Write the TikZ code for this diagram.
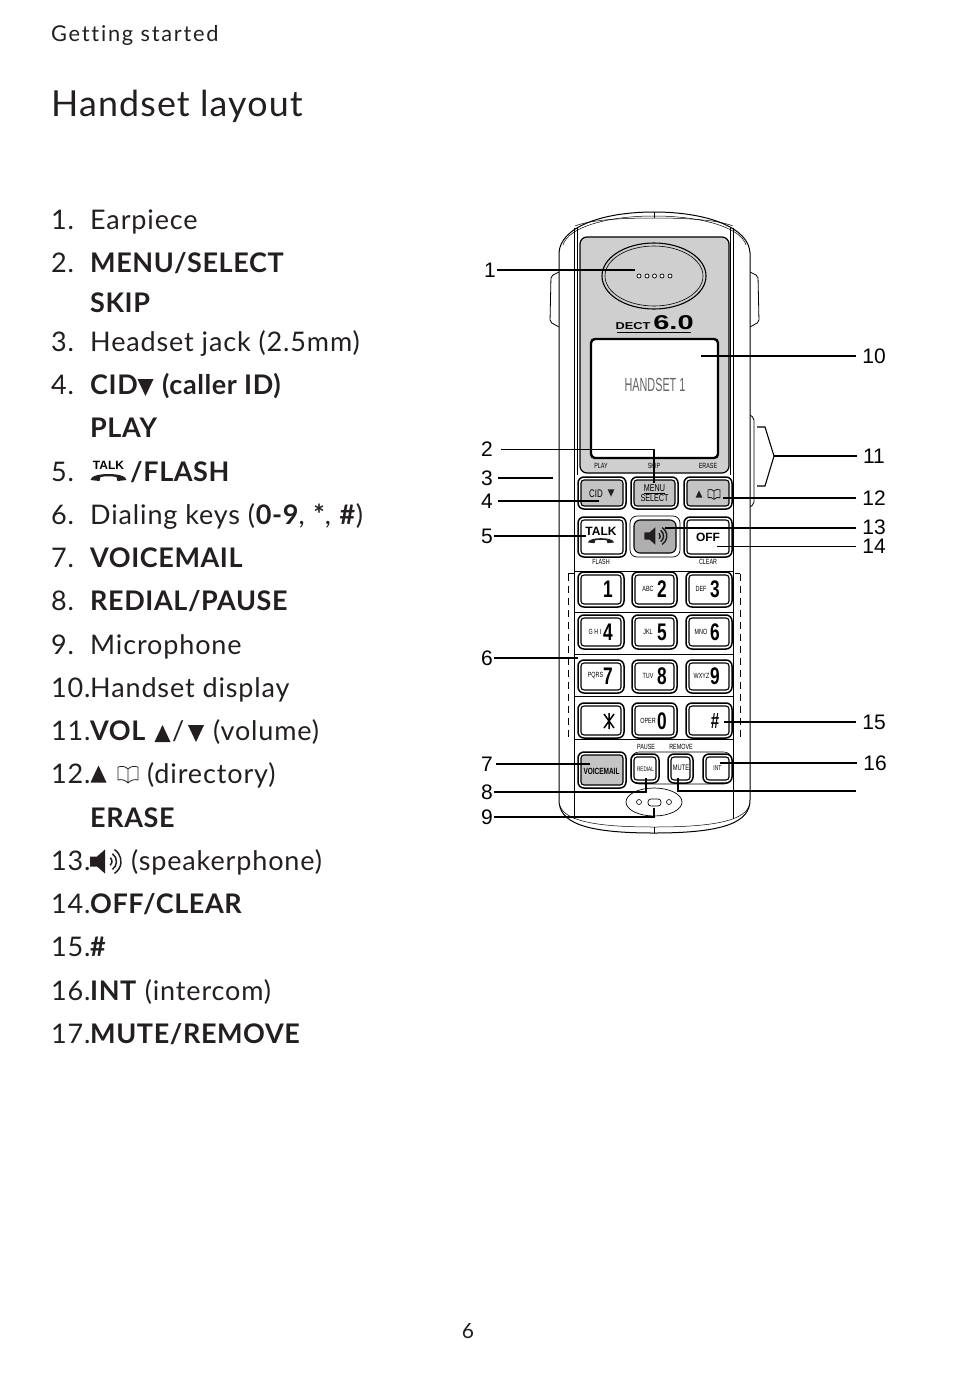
\documentclass[tikz,border=0pt]{standalone}
\usepackage{fontspec}
\setmainfont{Lato}
\newfontfamily\handfont{Liberation Sans}
\newfontfamily\wideface[LetterSpace=8,Ligatures=CommonOff]{Lato}
\newfontfamily\bodyface[LetterSpace=3.2,BoldFeatures={LetterSpace=2.2}]{Lato}
\usetikzlibrary{calc,positioning}

\definecolor{inkdark}{HTML}{231F20}
\definecolor{plategray}{HTML}{CFCFCF}
\definecolor{keygray}{HTML}{C4C4C4}

\newcommand{\handkey}[5]{
  \draw[line width=1.5pt,rounded corners=6pt,fill=white] (#1,#2) rectangle (#3,#4);
  \draw[line width=1.1pt,rounded corners=3pt,fill=#5] (#1+3,#2+3) rectangle (#3-3,#4-3);
}

\tikzset{
  numlab/.style={anchor=base west,inner sep=0pt,text=inkdark,font=\bodyface\fontsize{27}{27}\selectfont},
  itemlab/.style={anchor=base west,inner sep=0pt,text=inkdark,font=\bodyface\fontsize{27}{27}\selectfont},
  boldlab/.style={itemlab,font=\bodyface\bfseries\fontsize{27}{27}\selectfont},
  callout/.style={inner sep=1pt,font=\handfont\fontsize{21}{21}\selectfont},
  leader/.style={line width=1.1pt,black},
  keytiny/.style={inner sep=0pt,font=\handfont\fontsize{7.5}{7.5}\selectfont,xscale=.72,transform shape},
  keydigit/.style={inner sep=0pt,font=\handfont\bfseries\fontsize{24}{24}\selectfont,xscale=.72,transform shape},
  pics/upmark/.style={code={\fill[inkdark] (-8,8.5) -- (8,8.5) -- (0,-8.5) -- cycle;}},
  pics/dnmark/.style={code={\fill[inkdark] (-8,-8.5) -- (8,-8.5) -- (0,8.5) -- cycle;}},
  pics/bookmark/.style={code={
    \draw[inkdark,line width=.8pt,line join=round] (0,-5) .. controls (-3,-8) and (-6,-8) .. (-10,-7) -- (-10,6)
      .. controls (-6,5) and (-3,6) .. (0,9) .. controls (3,6) and (6,5) .. (10,6) -- (10,-7)
      .. controls (6,-8) and (3,-8) .. (0,-5) -- (0,9);
  }},
  pics/spkmark/.style={code={
    \fill[inkdark] (-16,-5) -- (-9,-5) -- (-1,-12) -- (-1,12) -- (-9,5) -- (-16,5) -- cycle;
    \draw[inkdark,line width=1.5pt] ([shift={(-50:5)}]1,0) arc (-50:50:5);
    \draw[inkdark,line width=1.5pt] ([shift={(-55:9.5)}]1,0) arc (-55:55:9.5);
    \draw[inkdark,line width=1.5pt] ([shift={(-58:14)}]1,0) arc (-58:58:14);
  }},
  pics/talkmark/.style={code={
    \node[inner sep=0pt,font=\handfont\bfseries\fontsize{12}{12}\selectfont] (-talk) at (0,-6) {TALK};
    \fill[inkdark] (-18,9) .. controls (-18,1) and (18,1) .. (18,9)
      -- (9,10) -- (8,6) .. controls (3,5) and (-3,5) .. (-8,6) -- (-9,10) -- cycle;
  }}
}

\begin{document}
\begin{tikzpicture}[x=1pt,y=-1pt]
  \useasboundingbox (0,0) rectangle (954,1392);

  % page headings
  \node[anchor=base west,inner sep=0pt,text=inkdark,font=\wideface\fontsize{21.8}{22}\selectfont] (chapter) at (51,41) {Getting started};
  \node[anchor=base west,inner sep=0pt,text=inkdark,font=\bodyface\fontsize{35.8}{36}\selectfont] (title) at (51,116) {Handset layout};
  \node[inner sep=0pt,text=inkdark,font=\bodyface\fontsize{21}{21}\selectfont] (pageno) at (468,1331) {6};

  % list on the left
  \node[numlab] (i1) at (51,229) {1.};
  \node[itemlab] (t1) at (90,229) {Earpiece};
  \node[numlab] (i2) at (51,272) {2.};
  \node[boldlab] (t2) at (90,272) {MENU/SELECT};
  \node[boldlab] (t2b) at (90,312) {SKIP};
  \node[numlab] (i3) at (51,351) {3.};
  \node[itemlab] (t3) at (90,351) {Headset jack (2.5mm)};
  \node[numlab] (i4) at (51,394) {4.};
  \node[boldlab] (t4) at (90,394) {CID};
  \pic at (145.5,387.5) {dnmark};
  \node[boldlab] (t4c) at (162,394) {(caller ID)};
  \node[boldlab] (t4b) at (90,437) {PLAY};
  \node[numlab] (i5) at (51,481) {5.};
  \pic at (108.5,471) {talkmark};
  \node[boldlab] (t5) at (130,481) {/FLASH};
  \node[numlab] (i6) at (51,524) {6.};
  \node[itemlab] (t6) at (90,524) {Dialing keys (\textbf{0-9}, \textbf{*}, \textbf{\#})};
  \node[numlab] (i7) at (51,567) {7.};
  \node[boldlab] (t7) at (90,567) {VOICEMAIL};
  \node[numlab] (i8) at (51,610) {8.};
  \node[boldlab] (t8) at (90,610) {REDIAL/PAUSE};
  \node[numlab] (i9) at (51,654) {9.};
  \node[itemlab] (t9) at (90,654) {Microphone};
  \node[numlab] (i10) at (51,697) {10.};
  \node[itemlab] (t10) at (90,697) {Handset display};
  \node[numlab] (i11) at (51,740) {11.};
  \node[boldlab] (t11) at (90,740) {VOL};
  \pic at (162.5,733.5) {upmark};
  \node[itemlab] (t11s) at (172,740) {/};
  \pic at (196,733.5) {dnmark};
  \node[itemlab] (t11c) at (213,740) {(volume)};
  \node[numlab] (i12) at (51,783) {12.};
  \pic at (98.5,774) {upmark};
  \pic at (128,774) {bookmark};
  \node[itemlab] (t12) at (147,783) {(directory)};
  \node[boldlab] (t12b) at (90,827) {ERASE};
  \node[numlab] (i13) at (51,870) {13.};
  \pic at (106,861.5) {spkmark};
  \node[itemlab] (t13) at (131,870) {(speakerphone)};
  \node[numlab] (i14) at (51,913) {14.};
  \node[boldlab] (t14) at (90,913) {OFF/CLEAR};
  \node[numlab] (i15) at (51,956) {15.};
  \node[boldlab] (t15) at (90,956) {\#};
  \node[numlab] (i16) at (51,1000) {16.};
  \node[itemlab] (t16) at (90,1000) {\textbf{INT} (intercom)};
  \node[numlab] (i17) at (51,1043) {17.};
  \node[boldlab] (t17) at (90,1043) {MUTE/REMOVE};

  % handset body
  \draw[line width=.8pt,rounded corners=2pt] (559,272) -- (551,276) -- (550,322) -- (559,327);
  \draw[line width=.8pt,rounded corners=2pt] (750,272) -- (758,276) -- (759,322) -- (750,327);
  \draw[line width=.8pt,rounded corners=2pt] (750,415) -- (754,418) -- (754,504) -- (750,507);
  \draw[line width=1pt,fill=white] (559,253) .. controls (560,228) and (600,212) .. (654,212)
    .. controls (708,212) and (749,228) .. (750,253) -- (750,800)
    .. controls (750,822) and (725,833) .. (654,833) .. controls (583,833) and (559,822) .. (559,800) -- cycle;
  \draw[line width=.5pt] (563,245) .. controls (568,228) and (605,216) .. (654,216) .. controls (703,216) and (741,228) .. (746,245);
  \draw[line width=.5pt] (575,226) .. controls (590,220) and (620,218) .. (654,218) .. controls (688,218) and (718,220) .. (733,226);
  \draw[line width=.6pt] (574,228) -- (574,819);
  \draw[line width=.6pt] (577,228) -- (577,475);
  \draw[line width=.6pt] (733,228) -- (733,819);
  \draw[line width=.6pt] (730,228) -- (730,475);
  \draw[line width=.5pt] (560,806) .. controls (566,822) and (600,827) .. (654,827) .. controls (708,827) and (743,822) .. (749,806);
  \draw[line width=.5pt] (654,212) -- (654,218) (654,827) -- (654,833);
  \draw[line width=1.2pt,fill=plategray,rounded corners=7pt] (580,237) -- (729,237) -- (729,473) -- (580,473) -- cycle;

  % earpiece and logo
  \draw[line width=1.1pt] (654,276) ellipse (52 and 33);
  \draw[line width=.6pt] (654,276) ellipse (49 and 30);
  \draw[line width=.7pt,fill=white] (639,276) circle (2) (647,276) circle (2) (654.5,276) circle (2) (662,276) circle (2) (670,276) circle (2);
  \node[inner sep=0pt,font=\handfont\bfseries\fontsize{10}{10}\selectfont,xscale=1.28,transform shape] (dect) at (633,326) {DECT};
  \node[inner sep=0pt,font=\handfont\bfseries\fontsize{20}{20}\selectfont,xscale=1.45,transform shape] (sixzero) at (673.5,322.5) {6.0};
  \draw[line width=.7pt] (617,332.5) -- (691,332.5);

  % display
  \draw[line width=2.4pt,fill=white,rounded corners=4pt] (591,339) rectangle (718,458);
  \node[inner sep=0pt,text=black!60,font=\handfont\fontsize{19}{19}\selectfont,xscale=.57,transform shape] (lcd) at (655,385) {HANDSET 1};
  \node[keytiny] (play) at (601,465.5) {PLAY};
  \node[keytiny] (skip) at (654,465.5) {SKIP};
  \node[keytiny] (erase) at (708,465.5) {ERASE};

  % top rows of keys
  \handkey{578}{477}{626}{509}{keygray}
  \handkey{631}{477}{678}{509}{keygray}
  \handkey{684}{477}{732}{509}{keygray}
  \node[keytiny,font=\handfont\fontsize{11}{11}\selectfont] (cid) at (596,494) {CID};
  \pic[scale=.42] at (611,493) {dnmark};
  \node[keytiny,font=\handfont\fontsize{10}{10}\selectfont] (menu) at (654.5,488.5) {MENU};
  \draw[line width=.6pt] (644,493) -- (665,493);
  \node[keytiny,font=\handfont\fontsize{10}{10}\selectfont] (select) at (654.5,498) {SELECT};
  \pic[scale=.42] at (699,494) {upmark};
  \pic[scale=.6] at (714,494) {bookmark};
  \handkey{578}{517}{626}{557}{white}
  \draw[line width=.7pt,rounded corners=7pt] (630,516) rectangle (680,557);
  \draw[line width=1.1pt,fill=keygray!70!gray,rounded corners=6pt] (634,520) rectangle (676,553);
  \handkey{684}{517}{732}{557}{white}
  \pic[scale=.72] at (601,536) {talkmark};
  \pic[scale=.72] at (656,536) {spkmark};
  \node[inner sep=0pt,font=\handfont\bfseries\fontsize{12}{12}\selectfont] (off) at (708,537) {OFF};
  \node[keytiny] (flash) at (601,562) {FLASH};
  \node[keytiny] (clear) at (708,562) {CLEAR};

  % keypad
  \draw[line width=.6pt] (574,571) -- (733,571) (574,612) -- (733,612) (574,654) -- (733,654) (574,696) -- (733,696);
  \draw[line width=.6pt,dash pattern=on 7pt off 5pt] (568,574) -- (568,737);
  \draw[line width=.6pt,dash pattern=on 7pt off 5pt] (740,574) -- (740,737);
  \draw[line width=.6pt] (568,573) -- (574,573) (735,573) -- (740,573) (574,739) -- (733,739);
  \handkey{578}{572}{624}{607}{white}
  \handkey{632}{572}{677}{607}{white}
  \handkey{686}{572}{732}{607}{white}
  \handkey{578}{615}{624}{649}{white}
  \handkey{632}{615}{677}{649}{white}
  \handkey{686}{615}{732}{649}{white}
  \handkey{578}{660}{624}{693}{white}
  \handkey{632}{660}{677}{693}{white}
  \handkey{686}{660}{732}{693}{white}
  \handkey{578}{703}{624}{738}{white}
  \handkey{632}{703}{677}{738}{white}
  \handkey{686}{703}{732}{738}{white}
  \node[keydigit] (d1) at (608,589) {1};
  \node[keytiny] (abc) at (648,589) {ABC};
  \node[keydigit] (d2) at (662,589) {2};
  \node[keytiny] (def) at (701,589) {DEF};
  \node[keydigit] (d3) at (715,589) {3};
  \node[keytiny] (ghi) at (595,632) {G H I};
  \node[keydigit] (d4) at (608,632) {4};
  \node[keytiny] (jkl) at (648,632) {JKL};
  \node[keydigit] (d5) at (662,632) {5};
  \node[keytiny] (mno) at (701,632) {MNO};
  \node[keydigit] (d6) at (715,632) {6};
  \node[keytiny] (pqrs) at (595.5,676) {PQRS};
  \node[keydigit] (d7) at (608,676) {7};
  \node[keytiny] (tuv) at (648,676) {TUV};
  \node[keydigit] (d8) at (662,676) {8};
  \node[keytiny] (wxyz) at (701.5,676) {WXYZ};
  \node[keydigit] (d9) at (715,676) {9};
  \coordinate (starc) at (609,721);
  \draw[line width=1.5pt] ($(starc)+(0,-8)$) -- ($(starc)+(0,8)$) ($(starc)+(-5,-7)$) -- ($(starc)+(5,7)$) ($(starc)+(5,-7)$) -- ($(starc)+(-5,7)$);
  \node[keytiny] (oper) at (648,721) {OPER};
  \node[keydigit] (d0) at (662,721) {0};
  \node[keydigit,font=\handfont\bfseries\fontsize{22}{22}\selectfont,xscale=.95] (hash) at (715,721) {\#};

  % bottom row and microphone
  \node[keytiny] (pause) at (646,747) {PAUSE};
  \node[keytiny] (remove) at (681,747) {REMOVE};
  \draw[line width=.6pt,rounded corners=8pt] (631,752) -- (732,752) -- (732,784) -- (631,784) -- cycle;
  \handkey{578}{752}{626}{788}{keygray}
  \handkey{631}{754}{659}{783}{white}
  \handkey{668}{754}{693}{783}{white}
  \handkey{703}{754}{732}{783}{white}
  \node[keytiny,font=\handfont\bfseries\fontsize{9}{9}\selectfont] (vmail) at (601.5,771) {VOICEMAIL};
  \node[keytiny,font=\handfont\fontsize{6.5}{6.5}\selectfont] (redial) at (645.5,769) {REDIAL};
  \node[keytiny,font=\handfont\fontsize{8}{8}\selectfont] (mute) at (681,768) {MUTE};
  \node[keytiny,font=\handfont\fontsize{7}{7}\selectfont] (intk) at (717.5,768) {INT};
  \draw[line width=.7pt] (654,802) ellipse (28 and 14);
  \draw[line width=.7pt,rounded corners=3pt] (648,799) rectangle (661,806);
  \draw[line width=.6pt] (639,802) circle (2.5) (669,802) circle (2.5);

  % callouts on the left
  \coordinate (p1) at (635,270);
  \coordinate (p2) at (654,483);
  \coordinate (p3) at (553,478);
  \coordinate (p4) at (599,501);
  \coordinate (p5) at (586,536);
  \coordinate (p6) at (578,658);
  \coordinate (p7) at (590,764);
  \coordinate (p8) at (646,778);
  \coordinate (p9) at (654,808);
  \node[callout] (n1) at (490,270) {1};
  \node[callout,inner xsep=8pt] (n2) at (487,449.5) {2};
  \node[callout,inner xsep=5pt] (n3) at (487,478) {3};
  \node[callout,inner xsep=5pt] (n4) at (487,501) {4};
  \node[callout] (n5) at (487,536) {5};
  \node[callout] (n6) at (487,658) {6};
  \node[callout,inner xsep=3pt] (n7) at (487,764) {7};
  \node[callout] (n8) at (487,792) {8};
  \node[callout] (n9) at (487,817) {9};
  \draw[leader] (n1) -- (p1);
  \draw[leader] (n2.east) -| (p2);
  \draw[leader] (n3) -- (p3);
  \draw[leader] (n4) -- (p4);
  \draw[leader] (n5) -- (p5);
  \draw[leader] (n6) -- (p6);
  \draw[leader] (n7) -- (p7);
  \draw[leader] (n8.east) -| (p8);
  \draw[leader] (n9.east) -| (p9);

  % callouts on the right
  \coordinate (p10) at (701,356);
  \coordinate (p11) at (774,456);
  \coordinate (p12) at (723,498);
  \coordinate (p13) at (665,528);
  \coordinate (p14) at (717,546);
  \coordinate (p15) at (724,722);
  \coordinate (p16) at (720,763);
  \coordinate (p17) at (678,778);
  \coordinate (e17) at (856,791);
  \node[callout,inner xsep=6pt] (n10) at (874,356) {10};
  \node[callout,inner xsep=6pt] (n11) at (874,456) {11};
  \node[callout,inner xsep=6pt] (n12) at (874,498) {12};
  \node[callout,inner xsep=6pt] (n13) at (874,527) {13};
  \node[callout,inner xsep=6pt] (n14) at (874,546) {14};
  \node[callout,inner xsep=6pt] (n15) at (874,722) {15};
  \node[callout,inner xsep=6pt] (n16) at (875,763) {16};
  \draw[leader] (n10) -- (p10);
  \draw[leader] (n11) -- (p11);
  \draw[leader] (757,427) -- (765,427) -- (p11) -- (765,486) -- (757,486);
  \draw[leader] (n12) -- (p12);
  \draw[leader] (n13.west |- p13) -- (p13);
  \draw[leader,line width=.7pt] (n14) -- (p14);
  \draw[leader] (n15) -- (p15);
  \draw[leader] (n16) -- (p16);
  \draw[leader] (p17) |- (e17);
\end{tikzpicture}
\end{document}
